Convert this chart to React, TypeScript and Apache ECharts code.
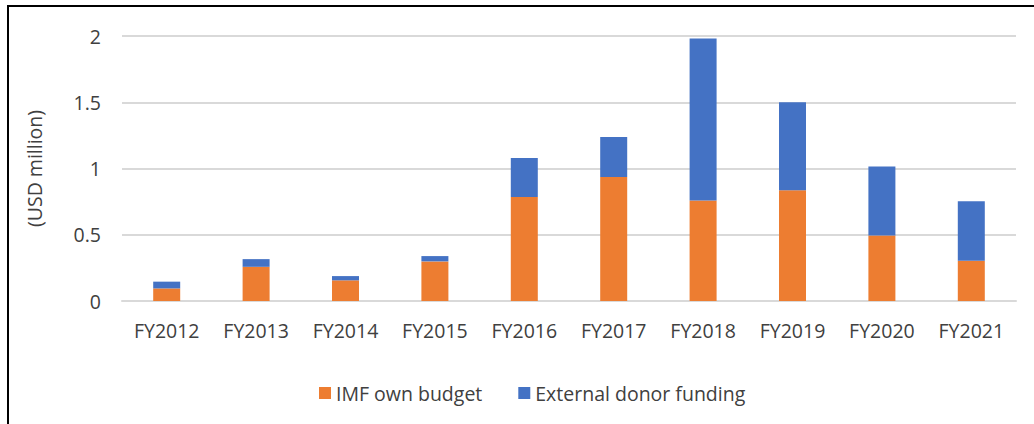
import React, { useEffect, useRef } from "react";
import * as echarts from "echarts";

const categories = ["FY2012", "FY2013", "FY2014", "FY2015", "FY2016", "FY2017", "FY2018", "FY2019", "FY2020", "FY2021"];
const imfOwnBudget = [0.095, 0.258, 0.156, 0.299, 0.785, 0.936, 0.758, 0.836, 0.494, 0.304];
const externalDonor = [0.051, 0.058, 0.032, 0.04, 0.294, 0.301, 1.224, 0.664, 0.522, 0.449];
const seriesNames = ["IMF own budget", "External donor funding"];
const yTicks = { min: 0, max: 2, interval: 0.5 };

const FONT = "'Open Sans', 'Noto Sans', sans-serif";
const TEXT = "#404040";
const FS = 19.5;

export default function App() {
  const ref = useRef<HTMLDivElement>(null);
  useEffect(() => {
    document.body.style.margin = "0";
    const chart = echarts.init(ref.current!, undefined, { renderer: "svg" });
    chart.setOption({
      animation: false,
      backgroundColor: "#ffffff",
      textStyle: { fontFamily: FONT, color: TEXT },
      graphic: [
        {
          type: "rect",
          shape: { x: 8, y: 6, width: 1040, height: 440 },
          style: { fill: "none", stroke: "#000000", lineWidth: 2 },
          silent: true,
        },
      ],
      grid: { left: 122, right: 18, top: 36, bottom: 123, containLabel: false },
      legend: {
        left: 314,
        top: 378,
        itemWidth: 12,
        itemHeight: 12,
        itemGap: 36,
        icon: "rect",
        textStyle: { fontFamily: FONT, fontSize: FS, color: TEXT },
        data: seriesNames,
      },
      xAxis: {
        type: "category",
        data: categories,
        axisLine: { show: true, lineStyle: { color: "#D9D9D9", width: 2 } },
        axisTick: { show: false },
        axisLabel: { fontFamily: FONT, fontSize: FS, color: TEXT, margin: 19 },
      },
      yAxis: {
        type: "value",
        min: yTicks.min,
        max: yTicks.max,
        interval: yTicks.interval,
        name: "(USD million)",
        nameLocation: "middle",
        nameGap: 78,
        nameTextStyle: { fontFamily: FONT, fontSize: FS, color: TEXT },
        axisLine: { show: false },
        axisTick: { show: false },
        splitLine: { lineStyle: { color: "#D9D9D9", width: 2 } },
        axisLabel: { fontFamily: FONT, fontSize: FS, color: TEXT, margin: 21 },
      },
      series: [
        {
          name: seriesNames[0],
          type: "bar",
          stack: "total",
          barWidth: 27,
          data: imfOwnBudget,
          itemStyle: { color: "#ED7D31" },
        },
        {
          name: seriesNames[1],
          type: "bar",
          stack: "total",
          barWidth: 27,
          data: externalDonor,
          itemStyle: { color: "#4472C4" },
        },
      ],
    });
    return () => chart.dispose();
  }, []);
  return <div ref={ref} style={{ width: 1034, height: 424 }} />;
}
